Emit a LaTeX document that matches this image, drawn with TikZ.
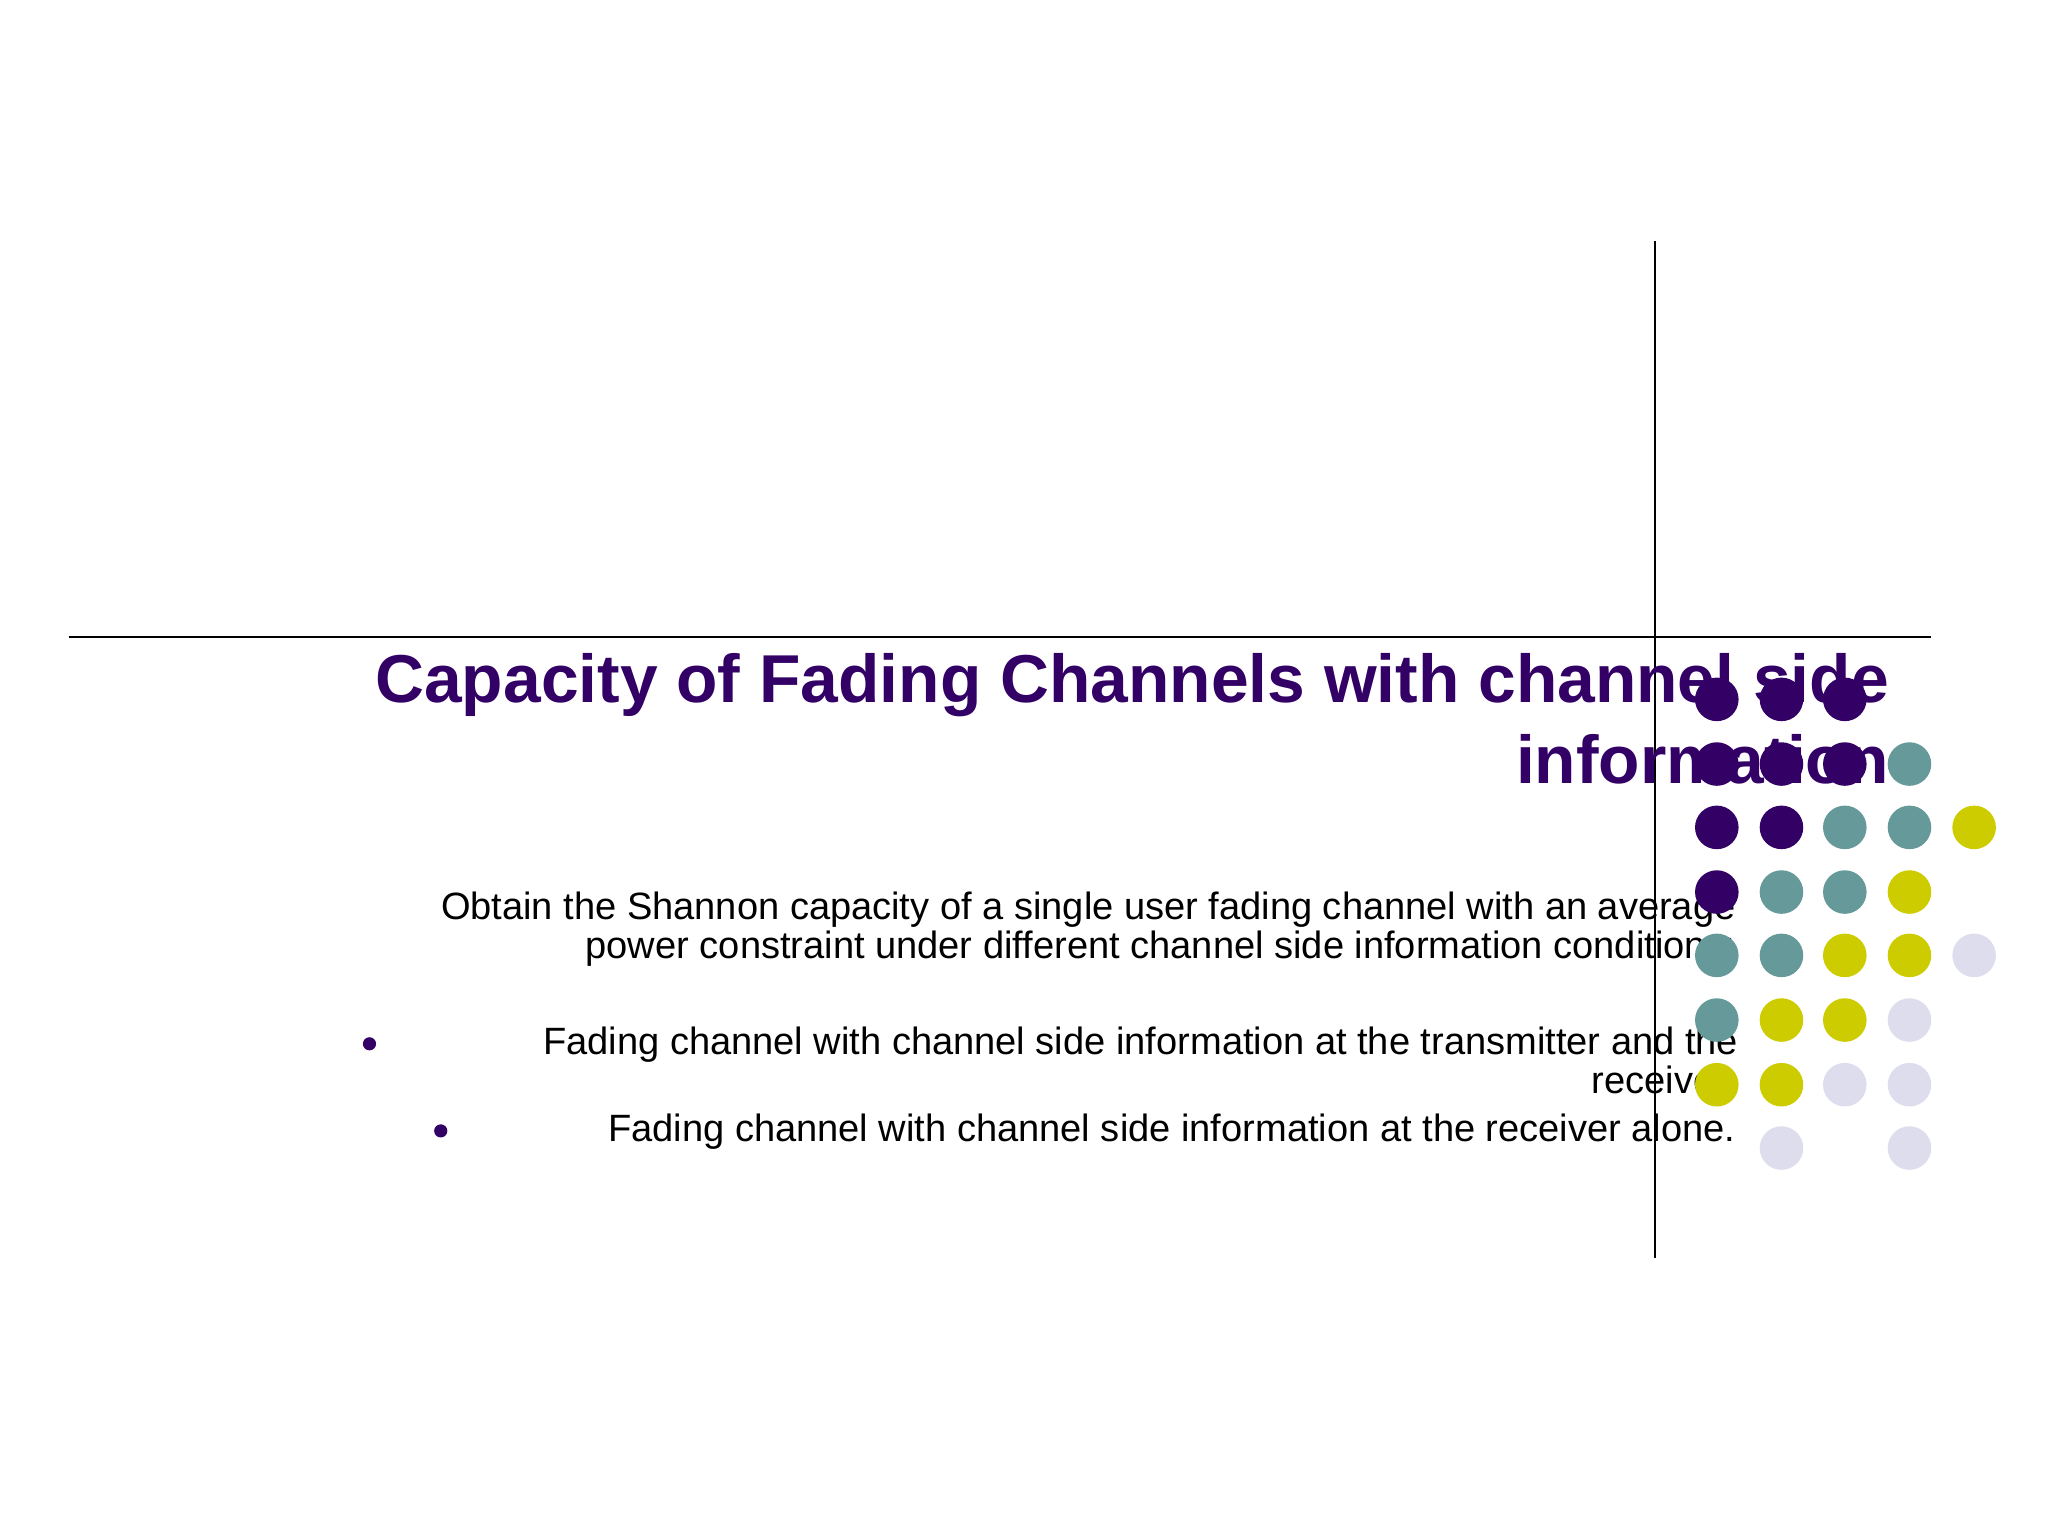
\documentclass[tikz,border=0pt]{standalone}
\usepackage{fontspec}
\setmainfont{Liberation Sans}
\definecolor{cp}{HTML}{330066}
\definecolor{ct}{HTML}{669999}
\definecolor{cy}{HTML}{CCCC00}
\definecolor{cl}{HTML}{DDDDEE}
\begin{document}
\begin{tikzpicture}[x=0.01cm,y=-0.01cm,
  dot/.style={circle,inner sep=0pt,minimum size=0.33cm},
  body/.style={font=\fontsize{8.2pt}{9pt}\selectfont,anchor=base east,inner sep=0pt}]
\useasboundingbox (0,0) rectangle (1552,1164);
\draw[line width=0.4pt] (52,483) -- (1463,483);
\draw[line width=0.4pt] (1254,183) -- (1254,953);
\node[anchor=base east,inner sep=0pt,text=cp,font=\bfseries\fontsize{14.6pt}{16pt}\selectfont] (t1) at (1432,532) {Capacity of Fading Channels with channel side};
\node[anchor=base east,inner sep=0pt,text=cp,font=\bfseries\fontsize{14.6pt}{16pt}\selectfont] (t2) at (1432,594) {information};
\node[body] (b1) at (1316,697) {Obtain the Shannon capacity of a single user fading channel with an average};
\node[body] (b2) at (1316,726) {power constraint under different channel side information conditions:};
\node[body] (b3) at (1318,799) {Fading channel with channel side information at the transmitter and the};
\node[body] (b4) at (1316,829) {receiver.};
\node[body] (b5) at (1316,865) {Fading channel with channel side information at the receiver alone.};
\fill[cp] (280,791) circle (5);
\fill[cp] (334,857) circle (5);
\foreach \c/\x/\y in {cp/1301/530,cp/1350/530,cp/1398/530,
 cp/1301/579,cp/1350/579,cp/1398/579,ct/1447/579,
 cp/1301/627,cp/1350/627,ct/1398/627,ct/1447/627,cy/1496/627,
 cp/1301/676,ct/1350/676,ct/1398/676,cy/1447/676,
 ct/1301/724,ct/1350/724,cy/1398/724,cy/1447/724,cl/1496/724,
 ct/1301/773,cy/1350/773,cy/1398/773,cl/1447/773,
 cy/1301/822,cy/1350/822,cl/1398/822,cl/1447/822,
 cl/1350/870,cl/1447/870}
  \node[dot,fill=\c] at (\x,\y) {};
\end{tikzpicture}
\end{document}
